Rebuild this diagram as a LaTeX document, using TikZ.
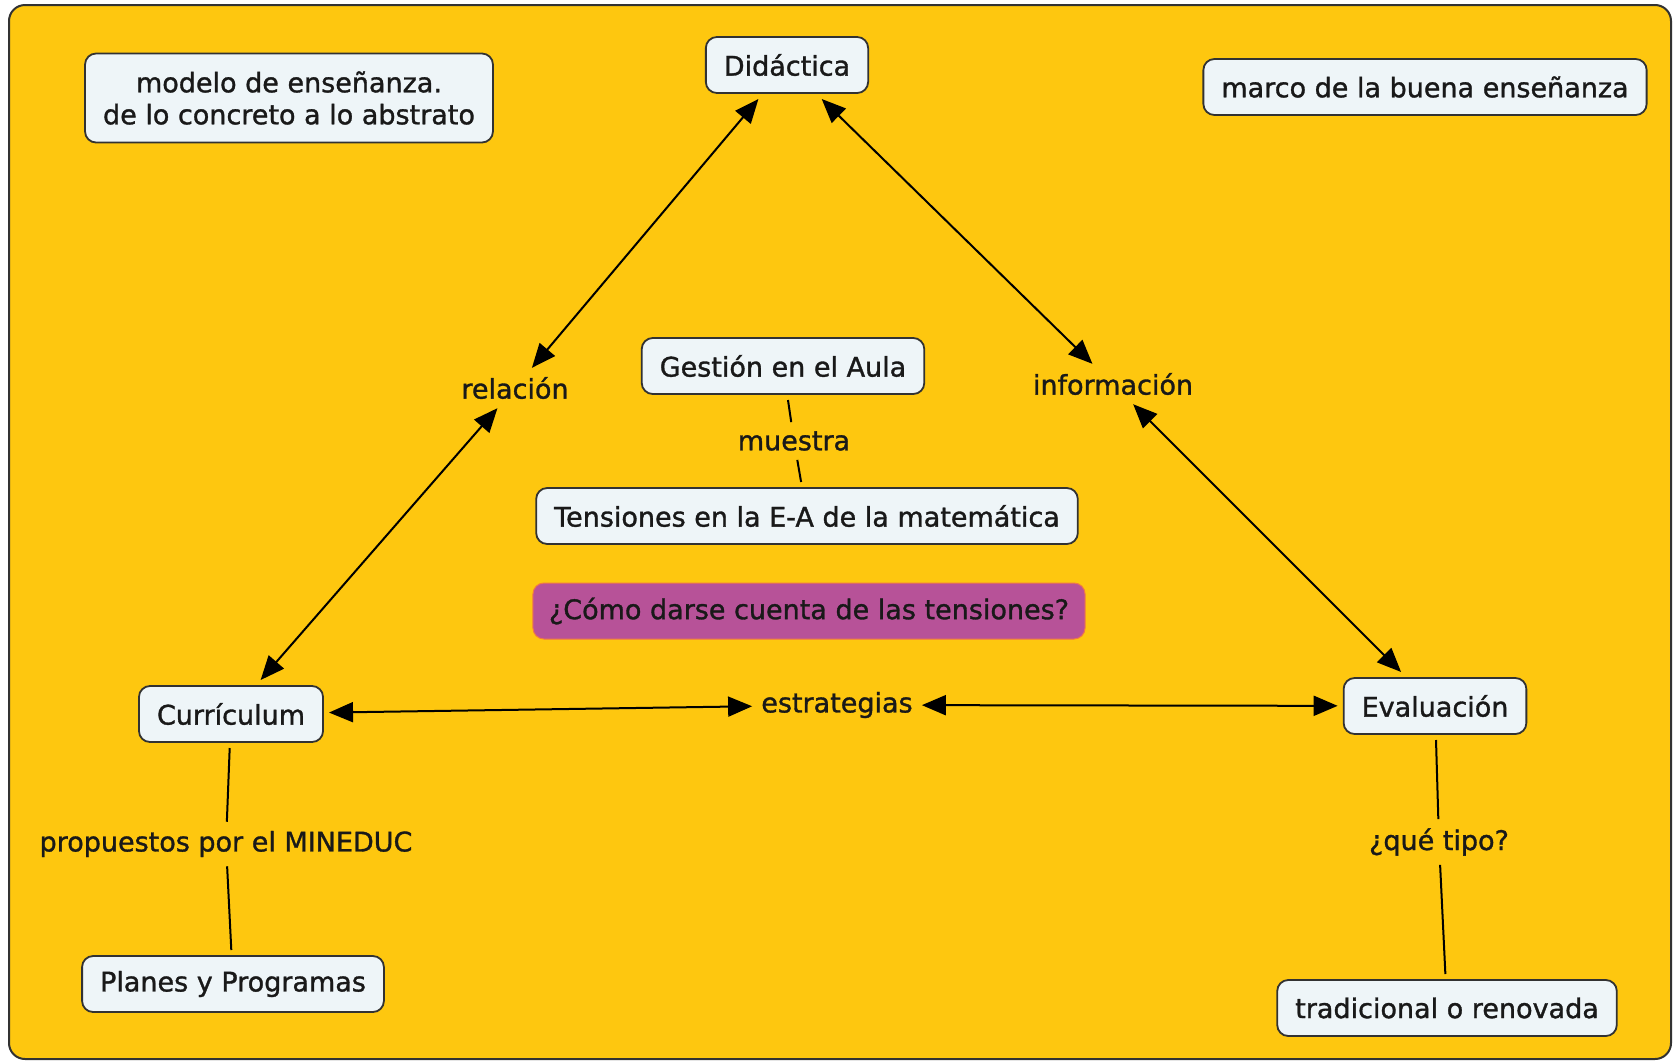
\documentclass[tikz,border=0pt]{standalone}
\usepackage{fontspec}
\setmainfont{DejaVu Sans}[BoldFont={DejaVu Sans},BoldFeatures={FakeBold=1.2}]
\usetikzlibrary{arrows.meta}

\definecolor{fondo}{RGB}{254,199,15}
\definecolor{caja}{RGB}{238,245,248}
\definecolor{borde}{RGB}{50,50,50}
\definecolor{magenta}{RGB}{183,82,152}
\definecolor{brillo}{RGB}{240,120,70}

\begin{document}
\begin{tikzpicture}
  [x=1pt,y=-1pt,>={Triangle[length=24pt,width=20pt]},
   every node/.style={font=\fontsize{27}{32}\selectfont\bfseries,text=black!90},
   concept/.style={draw=borde,fill=caja,line width=1.8pt,rounded corners=11pt,
     minimum height=56pt,inner xsep=18pt,outer sep=6pt,align=center},
   linkword/.style={inner sep=9pt},
   question/.style={draw=brillo,fill=magenta,line width=1pt,rounded corners=11pt,
     minimum height=56pt,inner xsep=16pt}]
  \useasboundingbox (0,0) rectangle (1673,1061);
  \draw [fill=fondo,draw=borde,line width=2pt,rounded corners=16pt] (9,5) rectangle (1671,1059);

  \node [concept] (didactica) at (787,65) {Didáctica};
  \node [concept,minimum height=89pt] (modelo) at (289,98) {modelo de enseñanza.\\de lo concreto a lo abstrato};
  \node [concept] (marco) at (1425,87) {marco de la buena enseñanza};
  \node [linkword] (relacion) at (515,388) {relación};
  \node [linkword] (informacion) at (1113,384) {información};
  \node [concept] (gestion) at (783,366) {Gestión en el Aula};
  \node [linkword] (muestra) at (794,441) {muestra};
  \node [concept] (tensiones) at (807,516) {Tensiones en la E-A de la matemática};
  \node [question] (pregunta) at (809,611) {¿Cómo darse cuenta de las tensiones?};
  \node [concept] (curriculum) at (231,714) {Currículum};
  \node [linkword] (estrategias) at (837,705) {estrategias};
  \node [concept] (evaluacion) at (1435,706) {Evaluación};
  \node [linkword] (propuestos) at (226,844) {propuestos por el MINEDUC};
  \node [concept] (planes) at (233,984) {Planes y Programas};
  \node [linkword] (tipo) at (1439,842) {¿qué tipo?};
  \node [concept] (tradicional) at (1447,1008) {tradicional o renovada};

  \foreach \from/\to in {didactica/relacion,relacion/curriculum,didactica/informacion,informacion/evaluacion,curriculum/estrategias,estrategias/evaluacion}
    \draw [<->,line width=2pt] (\from) -- (\to);
  \foreach \from/\to in {gestion/muestra,muestra/tensiones,curriculum/propuestos,propuestos/planes,evaluacion/tipo,tipo/tradicional}
    \draw [line width=2pt] (\from) -- (\to);

\end{tikzpicture}
\end{document}
